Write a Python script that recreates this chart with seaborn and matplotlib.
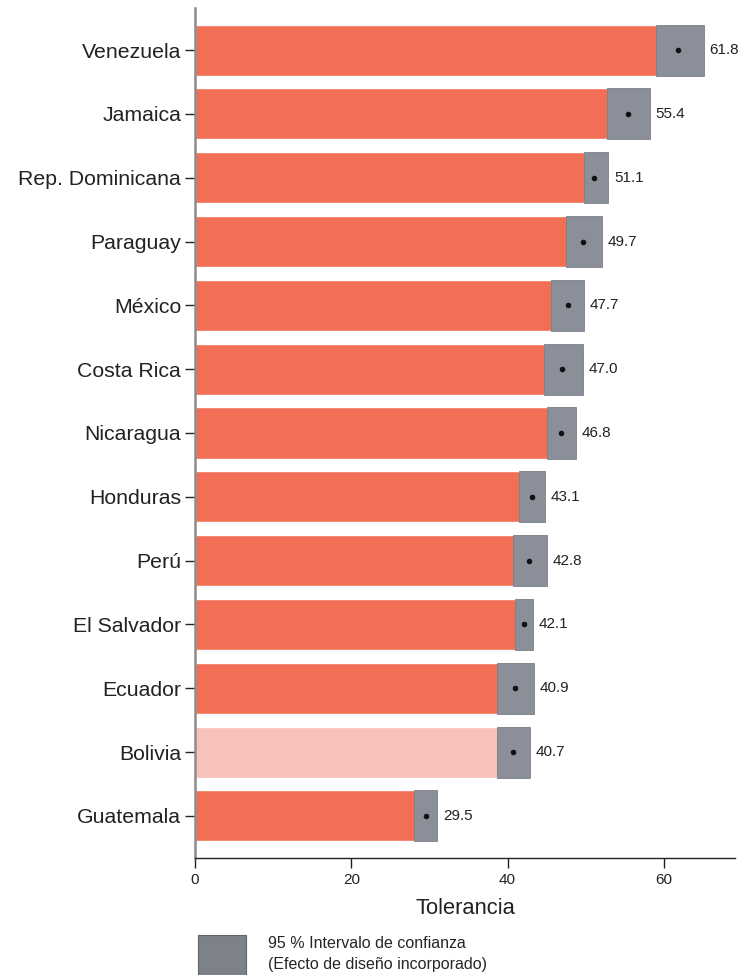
import matplotlib
matplotlib.use("Agg")
import matplotlib.pyplot as plt
import seaborn as sns
import pandas as pd
from matplotlib.patches import Patch

# Tolerancia media por país con intervalo de confianza del 95 %
countries = ["Venezuela", "Jamaica", "Rep. Dominicana", "Paraguay", "México",
             "Costa Rica", "Nicaragua", "Honduras", "Perú", "El Salvador",
             "Ecuador", "Bolivia", "Guatemala"]
means = [61.8, 55.4, 51.1, 49.7, 47.7, 47.0, 46.8, 43.1, 42.8, 42.1, 40.9, 40.7, 29.5]
ci_low = [59.0, 52.7, 49.8, 47.5, 45.6, 44.6, 45.1, 41.5, 40.7, 41.0, 38.6, 38.7, 28.0]
ci_high = [65.1, 58.2, 52.9, 52.1, 49.8, 49.6, 48.8, 44.8, 45.0, 43.3, 43.4, 42.9, 31.0]
highlight = "Bolivia"

sns.set_theme(style="ticks")
plt.rcParams["font.family"] = ["Liberation Sans", "DejaVu Sans"]

df = pd.DataFrame({"country": countries, "mean": means})
bar_colors = {c: ("#F8C1B9" if c == highlight else "#F26F55") for c in countries}
ci_color = "#8A8F99"
text_color = "#222222"

fig = plt.figure(figsize=(7.43, 9.75), dpi=100)
ax = fig.add_axes([195 / 743, 1 - 858 / 975, 540 / 743, 850 / 975])

sns.barplot(data=df, x="mean", y="country", hue="country", order=countries,
            palette=bar_colors, width=0.8, saturation=1, errorbar=None,
            legend=False, ax=ax, zorder=2)

pos = list(range(len(countries)))
ax.barh(pos, [h - l for l, h in zip(ci_low, ci_high)], left=ci_low, height=0.8,
        color=ci_color, edgecolor="#7b8089", linewidth=0.6, zorder=3)
ax.scatter(means, pos, s=16, color="#111111", linewidths=0, zorder=4)

for i, (m, h) in enumerate(zip(means, ci_high)):
    ax.annotate(f"{m:.1f}", xy=(h, i), xytext=(4.0, 0), textcoords="offset points",
                va="center", ha="left", fontsize=11, color=text_color)

ax.set_xlim(0, 69.1)
ax.set_ylim(len(countries) - 1 + 0.66, -0.66)
ax.set_xticks([0, 20, 40, 60])
ax.set_xlabel("Tolerancia", fontsize=15.8, color=text_color, labelpad=8)
ax.set_ylabel("")

sns.despine(ax=ax)
ax.spines["left"].set_color("#8c8c8c")
ax.spines["left"].set_linewidth(1.8)
ax.spines["bottom"].set_color("#222222")
ax.spines["bottom"].set_linewidth(1.0)
ax.tick_params(axis="y", length=7, width=1, color="#222222", pad=3,
               labelsize=15.3, labelcolor=text_color)
ax.tick_params(axis="x", length=7, width=1, color="#222222", pad=4,
               labelsize=11, labelcolor=text_color)

leg = fig.legend(handles=[Patch(facecolor="#7d8189", edgecolor="#5f636a", linewidth=0.8,
                                label="95 % Intervalo de confianza\n(Efecto de diseño incorporado)")],
                 loc="upper left", bbox_to_anchor=(198 / 743, 1 - 935 / 975),
                 frameon=False, fontsize=11.5, handlelength=3.0, handleheight=3.6,
                 handletextpad=1.4, borderpad=0, borderaxespad=0, labelspacing=0)
for t in leg.get_texts():
    t.set_linespacing(1.45)

fig.savefig("out.png", dpi=100)
